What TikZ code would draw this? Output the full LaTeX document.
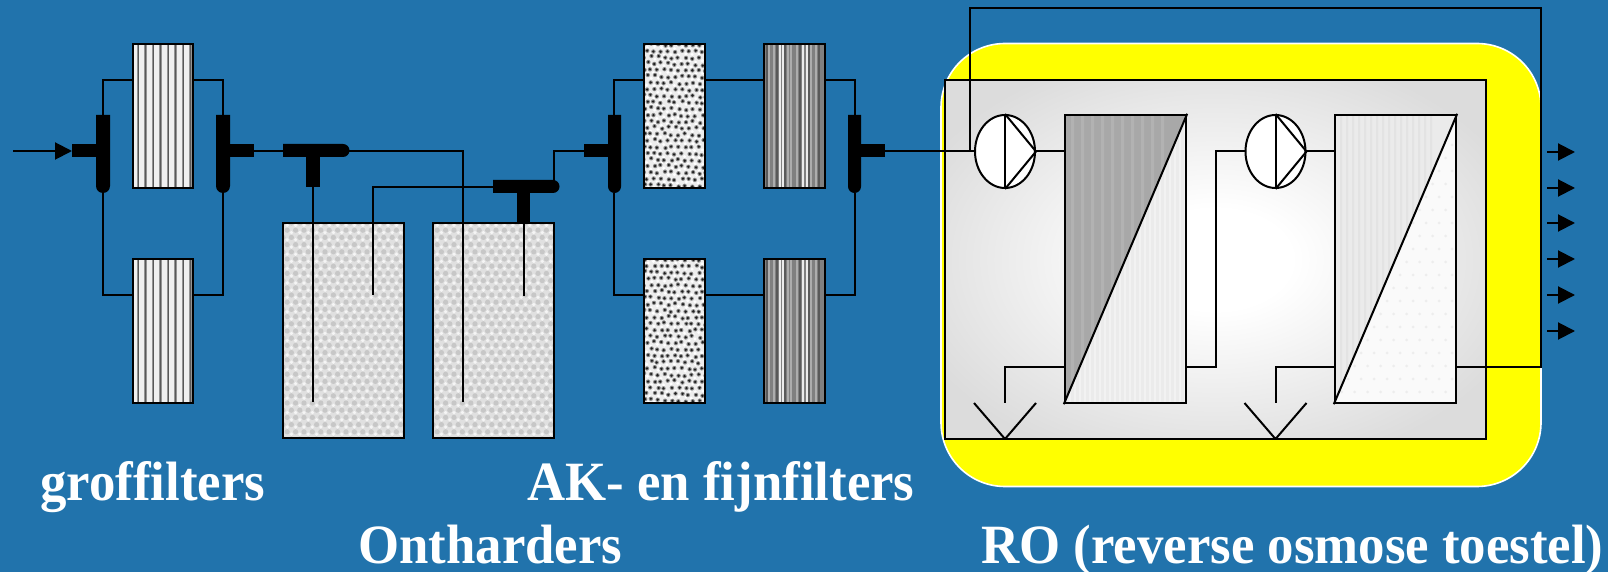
\documentclass[tikz,border=0pt]{standalone}
\usepackage{fontspec}
\usepackage{graphicx}
\setmainfont[Ligatures=NoCommon]{Liberation Serif}
\usetikzlibrary{arrows.meta,shapes.geometric,calc}
\definecolor{bgblue}{HTML}{2173AC}
\definecolor{ygreen}{HTML}{FFFF00}
\definecolor{rogrey}{HTML}{DCDCDC}
\pgfdeclareradialshading{roshade}{\pgfpoint{0bp}{0bp}}{color(0bp)=(white); color(7bp)=(white); color(30bp)=(rogrey); color(50bp)=(rogrey)}
\newcommand{\coarsefill}{%
  \fill[white!94!black] (0,0) rectangle (62,146);
  \foreach \s in {5,12.5,20,27.5,35,42.5,50,57.5}{
    \fill[black!42] (\s-1.4,0) rectangle (\s+1.4,146);
    \fill[black!65] (\s-.5,0) rectangle (\s+.5,146);
  }}
\newcommand{\finefill}{%
  \fill[black!50] (0,0) rectangle (62,146);
  \foreach \s in {5,10,24,27,33,47,52}{\fill[black!32] (\s-1,0) rectangle (\s+1,146);}
  \foreach \s in {3,13,21,36,45,55}{\fill[black!65] (\s-.7,0) rectangle (\s+.7,146);}
  \foreach \s in {16,19,39,43}{\fill[white!92!black] (\s-.8,0) rectangle (\s+.8,146);}}
\newcommand{\akfill}{%
  \fill[black!7] (0,0) rectangle (62,146);
  \foreach \j in {0,...,23}{\foreach \i in {0,...,10}{
    \pgfmathsetmacro\px{\i*6.9+mod(\j,2)*3.4+1.2*rand}
    \pgfmathsetmacro\py{\j*6.4+.152*\i+1.2*rand}
    \fill[white] (\px+3.4,\py+3.2) circle[radius=1.6];
    \fill[black!45] (\px,\py) circle[radius=2.2];
    \fill[black!88] (\px,\py) circle[radius=1.3];
  }}}
\newcommand{\tankfill}{%
  \fill[black!12] (0,0) rectangle (123,217);
  \foreach \j in {0,...,31}{\foreach \i in {0,...,15}{
    \pgfmathsetmacro\px{\i*8.4+mod(\j,2)*4.2}
    \pgfmathsetmacro\py{\j*7.2}
    \fill[black!22] (\px,\py) circle[radius=2.6];
    \fill[white!96!black] (\px+4.2,\py+2.4) circle[radius=1.8];
  }}}
\newcommand{\memdarkfill}{%
  \fill[black!8] (0,0) rectangle (123,290);
  \foreach \s in {4,9,...,120}{\fill[black!5] (\s,0) rectangle (\s+1.5,290);}
  \fill[black!34] (0,0) -- (121,0) -- (0,288) -- cycle;
  \foreach \s in {6,16,...,96}{\fill[black!30] (\s,0) -- (\s+3,0) -- (\s+3,{288-2.38*(\s+3)}) -- (\s,{288-2.38*\s}) -- cycle;}
}
\newcommand{\memlightfill}{%
  \fill[white!98!black] (0,0) rectangle (123,290);
  \foreach \j in {0,...,22}{\foreach \i in {0,...,9}{
    \fill[black!7] ({\i*13+mod(\j,2)*6.5},{\j*13+4}) circle[radius=1.5];
  }}
  \fill[black!8] (0,0) -- (121,0) -- (0,288) -- cycle;
  \foreach \s in {5,11,...,95}{\fill[black!11] (\s,0) -- (\s+2,0) -- (\s+2,{288-2.38*(\s+2)}) -- (\s,{288-2.38*\s}) -- cycle;}
}
\newcommand{\patchat}[5]{\begin{scope}[shift={(#1,#2)}]\clip (0,0) rectangle (#3,#4);#5\end{scope}}
\newcommand{\stretchlab}[1]{\scalebox{1}[1.05]{#1}}
\tikzset{
  x=.5pt,y=-.5pt,
  pipe/.style={line width=1pt,draw=black,line join=miter},
  unitbox/.style={rectangle,draw=black,line width=1.2pt,inner sep=0pt,minimum width=30pt,minimum height=72pt},
  tankbox/.style={rectangle,draw=black,line width=1.2pt,inner sep=0pt,minimum width=60.5pt,minimum height=107.5pt},
  membox/.style={rectangle,draw=black,line width=1.2pt,inner sep=0pt,minimum width=60.5pt,minimum height=144pt},
  pump/.style={ellipse,draw=black,line width=1pt,fill=white,inner sep=0pt,minimum width=30pt,minimum height=36.5pt},
  lab/.style={anchor=base west,text=white,inner sep=0pt,font=\fontsize{26.4pt}{30pt}\selectfont\bfseries},
  outarrow/.style={line width=1pt,-{Triangle[length=8.5pt,width=8.5pt]}}
}
\begin{document}
\begin{tikzpicture}
\pgfmathsetseed{7}
\useasboundingbox (0,0) rectangle (1608,572);
\fill[bgblue] (0,0) rectangle (1608,572);
% RO background
\node[rectangle,draw=white,line width=.8pt,fill=ygreen,rounded corners=32pt,inner sep=0pt,minimum width=300pt,minimum height=221.5pt] (yellow) at (1241,265) {};
\node[rectangle,draw=black,line width=1.1pt,shading=roshade,inner sep=0pt,minimum width=270.5pt,minimum height=179.5pt] (robox) at (1215.5,259.5) {};
% textures
\patchat{133}{44}{60}{144}{\coarsefill}
\patchat{133}{259}{60}{144}{\coarsefill}
\patchat{283}{223}{121}{215}{\tankfill}
\patchat{433}{223}{121}{215}{\tankfill}
\patchat{644}{44}{61}{144}{\akfill}
\patchat{644}{259}{61}{144}{\akfill}
\patchat{764}{44}{61}{144}{\finefill}
\patchat{764}{259}{61}{144}{\finefill}
\patchat{1065}{115}{121}{288}{\memdarkfill}
\patchat{1335}{115}{121}{288}{\memlightfill}
% units
\node[unitbox] (f1) at (163,116) {};
\node[unitbox] (f2) at (163,331) {};
\node[tankbox] (t1) at (343.5,330.5) {};
\node[tankbox] (t2) at (493.5,330.5) {};
\node[unitbox,minimum width=30.5pt] (a1) at (674.5,116) {};
\node[unitbox,minimum width=30.5pt] (a2) at (674.5,331) {};
\node[unitbox,minimum width=30.5pt] (b1) at (794.5,116) {};
\node[unitbox,minimum width=30.5pt] (b2) at (794.5,331) {};
\node[membox] (m1) at (1125.5,259) {};
\node[membox] (m2) at (1395.5,259) {};
\node[pump] (p1) at (1005,151.5) {};
\node[pump] (p2) at (1275.5,151.5) {};
% named ports
\coordinate (inS) at (13,151);
\coordinate (inE) at (72,151);
\coordinate (v1t) at (103,115); \coordinate (v1b) at (103,193);
\coordinate (v2t) at (223,115); \coordinate (v2b) at (223,193);
\coordinate (v2r) at (254,151);
\coordinate (T1l) at (283,151); \coordinate (T1r) at (345,151); \coordinate (T1s) at (313,187);
\coordinate (T1end) at (463,402); \coordinate (T1sEnd) at (313,402);
\coordinate (T2l) at (493,187); \coordinate (T2s) at (524,223); \coordinate (T2sEnd) at (524,296);
\coordinate (T2t) at (554,181);
\coordinate (t1in) at (373,295);
\coordinate (v3l) at (584,151);
\coordinate (v3t) at (614,115); \coordinate (v3b) at (614,193);
\coordinate (v4t) at (855,115); \coordinate (v4b) at (855,193);
\coordinate (v4r) at (885,151.5);
\coordinate (f1a) at (f1.west |- 0,80); \coordinate (f1c) at (f1.east |- 0,80);
\coordinate (f2a) at (f2.west |- 0,295); \coordinate (f2c) at (f2.east |- 0,295);
\coordinate (a1a) at (a1.west |- 0,80); \coordinate (a1c) at (a1.east |- 0,80);
\coordinate (a2a) at (a2.west |- 0,295); \coordinate (a2c) at (a2.east |- 0,295);
\coordinate (b1a) at (b1.west |- 0,80); \coordinate (b1c) at (b1.east |- 0,80);
\coordinate (b2a) at (b2.west |- 0,295); \coordinate (b2c) at (b2.east |- 0,295);
\coordinate (m1in) at (m1.west |- p1.east); \coordinate (m2in) at (m2.west |- p2.east);
\coordinate (m1d) at (m1.west |- 0,367); \coordinate (m1o) at (m1.east |- 0,367);
\coordinate (m2d) at (m2.west |- 0,367); \coordinate (m2o) at (m2.east |- 0,367);
\coordinate (d1t) at (p1.center |- 0,403); \coordinate (d1b) at (p1.center |- 0,439);
\coordinate (d2t) at (p2.center |- 0,403); \coordinate (d2b) at (p2.center |- 0,439);
\coordinate (d1l) at (p1.west |- 0,403); \coordinate (d1r) at (p1.east |- 0,403);
\coordinate (d2l) at (p2.west |- 0,403); \coordinate (d2r) at (p2.east |- 0,403);
\coordinate (recT) at (970,8); \coordinate (recR) at (1541,8);
\coordinate (recS) at (970,151.5);
% connectors
\draw[pipe] (v1t) |- (f1a);
\draw[pipe] (v1b) |- (f2a);
\draw[pipe] (v2t) |- (f1c);
\draw[pipe] (v2b) |- (f2c);
\draw[pipe] (v2r) -- (T1l);
\draw[pipe] (T1r) -| (T1end);
\draw[pipe] (T1s) -- (T1sEnd);
\draw[pipe] (t1in) |- (T2l);
\draw[pipe] (T2s) -- (T2sEnd);
\draw[pipe] (T2t) |- (v3l);
\draw[pipe] (v3t) |- (a1a);
\draw[pipe] (v3b) |- (a2a);
\draw[pipe] (a1c) -- (b1a);
\draw[pipe] (a2c) -- (b2a);
\draw[pipe] (v4t) |- (b1c);
\draw[pipe] (v4b) |- (b2c);
\draw[pipe] (v4r) -- (p1.west);
\draw[pipe] (recS) -- (recT) -- (recR) |- (m2o);
\draw[pipe] (p1.east) -- (m1in);
\draw[pipe] (m1o) -- ($(m1o)+(29,0)$) |- (p2.west);
\draw[pipe] (p2.east) -- (m2in);
\draw[pipe] (m1d) -| (d1t);
\draw[pipe] (m2d) -| (d2t);
\draw[pipe,line join=round] (d1l) -- (d1b) -- (d1r);
\draw[pipe,line join=round] (d2l) -- (d2b) -- (d2r);
% membrane diagonals and pump marks
\draw[pipe] (m1.north east) -- (m1.south west);
\draw[pipe] (m2.north east) -- (m2.south west);
\draw[pipe] (p1.north) -- (p1.south);
\draw[pipe] (p1.north) -- (p1.east) -- (p1.south);
\draw[pipe] (p2.north) -- (p2.south);
\draw[pipe] (p2.north) -- (p2.east) -- (p2.south);
% valves
\fill (72,144) rectangle (97,157);
\fill (96,115) -- (110,115) -- (110,186) arc (0:180:7) -- cycle;
\fill (216,115) -- (230,115) -- (230,186) arc (0:180:7) -- cycle;
\fill (229,144) rectangle (254,157);
\fill (283,144) -- (343,144) arc (-90:90:6.5) -- (283,157) -- cycle;
\fill (306,156) rectangle (320,187);
\fill (493,180) -- (553,180) arc (-90:90:6.5) -- (493,193) -- cycle;
\fill (517,192) rectangle (530,223);
\fill (584,144) rectangle (609,157);
\fill (608,115) -- (621,115) -- (621,186.5) arc (0:180:6.5) -- cycle;
\fill (848,115) -- (861,115) -- (861,186.5) arc (0:180:6.5) -- cycle;
\fill (860,144) rectangle (885,157);
% inlet and outlets
\draw[outarrow] (inS) -- (inE);
\foreach \i/\y in {1/152,2/188,3/223,4/259,5/295,6/331}{
  \coordinate (oa\i) at (1547,\y);
  \coordinate (ob\i) at (1575,\y);
  \draw[outarrow] (oa\i) -- (ob\i);
}
% labels
\node[lab] (l1) at (40,501) {\stretchlab{groffilters}};
\node[lab] (l2) at (527,501) {\stretchlab{AK- en fijnfilters}};
\node[lab] (l3) at (358,563) {\stretchlab{Ontharders}};
\node[lab] (l4) at (981,563) {\stretchlab{RO (reverse osmose toestel)}};
\end{tikzpicture}
\end{document}
